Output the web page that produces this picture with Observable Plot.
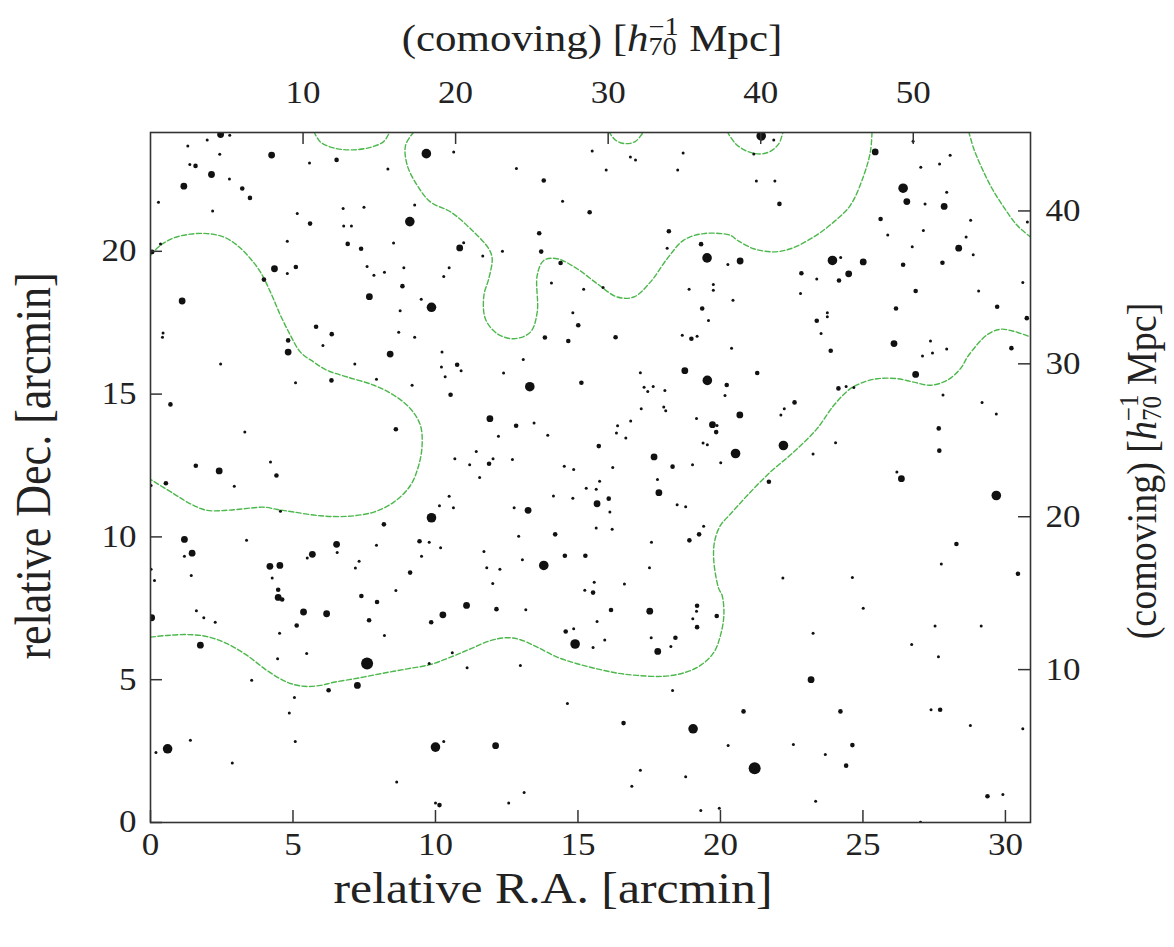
<!DOCTYPE html>
<html>
<head>
<meta charset="utf-8">
<script src="https://cdn.jsdelivr.net/npm/d3@7"></script>
<script src="https://cdn.jsdelivr.net/npm/@observablehq/plot@0.6"></script>
<style>
  html, body { margin: 0; padding: 0; background: white; }
</style>
</head>
<body>
<script>
// ---------- data (arcmin) ----------
const raTicks = [0, 5, 10, 15, 20, 25, 30];
const decTicks = [0, 5, 10, 15, 20];
const mpcTopTicks = [10, 20, 30, 40, 50];
const mpcRightTicks = [10, 20, 30, 40];
const mpcPerArcmin = 1.868;
const raMax = 30.88, decMax = 24.16;

// galaxies: [relative R.A., relative Dec., brightness class 1..5]
const galaxies = [
[2.46,24.09,3],[2.78,24.06,1],[1.99,23.90,1],[1.31,23.69,1],[4.25,23.37,3],[2.43,23.40,1],[5.58,23.09,1],[6.53,23.20,2],[9.68,23.42,4],[1.38,23.04,1],[1.58,22.99,2],[2.14,22.69,3],[8.33,22.88,1],[2.77,22.53,1],[1.17,22.28,3],[3.22,22.20,2],[3.49,21.87,2],[0.28,21.72,1],[9.27,21.62,1],[2.18,21.41,1],[6.76,21.50,1],[7.49,21.54,1],[5.15,21.32,1],[9.10,21.04,4],[5.60,20.97,2],[6.78,20.89,1],[7.05,20.89,1],[0.35,20.26,1],[0.06,19.98,2],[4.80,20.35,1],[6.92,20.26,2],[7.39,20.09,2],[8.53,20.29,1],[4.35,19.39,3],[4.80,19.22,1],[5.10,19.45,2],[7.60,19.47,1],[7.84,19.16,1],[8.21,19.27,1],[8.89,19.42,1],[3.98,19.01,2],[8.84,18.78,2],[1.11,18.26,3],[7.68,18.41,3],[9.50,18.32,1],[9.86,18.04,4],[8.76,17.92,1],[5.81,17.36,2],[6.36,17.10,2],[0.44,17.14,1],[0.42,16.99,1],[8.71,17.17,1],[9.27,16.99,1],[4.83,16.88,2],[6.05,16.70,1],[4.83,16.47,3],[8.41,16.40,3],[2.46,16.05,1],[7.17,16.05,1],
[5.09,15.40,1],[6.35,15.48,2],[7.93,15.52,1],[9.18,15.31,1],[0.70,14.64,2],[3.31,13.67,1],[8.61,13.77,2],[1.59,12.49,2],[2.41,12.31,3],[4.21,12.62,1],[4.42,12.15,2],[2.94,11.77,1],[0.54,11.88,2],[0.02,11.80,1],[4.56,10.90,1],[9.86,10.67,4],[8.19,10.44,2],[1.19,9.91,3],[3.37,9.88,1],[6.53,9.74,3],[7.93,9.71,1],[9.44,9.85,2],[9.78,9.81,1],[1.46,9.43,3],[1.19,9.32,1],[5.68,9.39,3],[5.50,9.26,1],[6.55,9.45,1],[7.32,9.15,1],[7.19,8.91,1],[9.51,9.32,1],[4.19,8.97,3],[4.54,9.00,3],[4.27,8.56,1],[1.43,8.65,1],[0.14,8.47,1],[0.02,8.87,1],[9.11,8.75,2],[4.48,8.15,2],[8.61,8.12,1],
[7.40,7.93,2],[4.48,7.88,3],[4.62,7.81,2],[7.95,7.72,2],[0.04,7.17,3],[1.61,7.41,1],[1.87,7.17,1],[2.27,7.01,1],[5.37,7.37,3],[6.18,7.31,3],[7.67,7.08,2],[9.85,7.01,2],[5.13,6.90,2],[4.53,6.63,1],[8.21,6.55,1],[1.75,6.21,3],[4.46,5.73,1],[5.48,5.92,1],[7.60,5.57,5],[9.78,5.57,1],[3.55,4.98,1],[7.26,4.80,3],[6.25,4.63,2],[5.05,4.38,1],[4.87,3.83,1],[1.40,2.88,1],[0.19,2.45,1],[0.60,2.58,4],[5.08,2.84,1],[2.87,2.08,1],[10.0,2.64,4],[8.64,1.42,1],[10.0,0.68,1],[10.14,0.61,2],
[10.64,23.48,1],[12.84,22.90,1],[15.50,23.51,1],[15.99,22.85,1],[16.84,23.30,1],[17.02,23.20,1],[18.69,23.44,1],[18.50,22.85,1],[13.80,22.48,2],[14.46,21.75,1],[15.41,21.37,2],[13.64,20.63,2],[18.19,20.70,2],[18.13,20.11,1],[10.85,20.12,3],[10.99,20.30,1],[11.66,19.84,1],[12.35,20.00,1],[13.71,19.99,2],[14.39,19.59,2],[10.48,19.42,1],[10.29,19.12,1],[19.32,20.25,2],[19.53,19.77,4],[20.26,19.54,1],[14.07,18.89,1],[15.20,18.67,1],[15.88,18.73,1],[18.90,18.67,1],[19.75,18.84,1],[19.75,18.64,1],[19.36,18.00,2],[19.58,17.58,1],[14.82,17.85,1],[15.01,17.41,2],[13.84,16.98,2],[14.66,16.86,2],[16.32,16.99,2],[18.66,17.06,1],[18.98,16.94,2],[19.18,17.03,1],[10.23,16.47,1],[13.08,16.21,1],
[10.21,15.95,1],[10.76,16.03,2],[10.90,15.82,1],[10.34,15.61,1],[12.39,15.74,1],[13.31,15.26,4],[10.53,14.98,2],[15.12,15.40,2],[17.19,15.75,1],[18.75,15.82,3],[19.54,15.48,4],[20.22,15.32,2],[20.16,14.95,1],[17.32,15.24,1],[17.64,15.27,1],[17.45,15.09,1],[18.05,15.13,1],[17.22,14.49,1],[18.01,14.55,1],[18.08,14.42,1],[11.91,14.14,3],[12.83,13.89,2],[13.46,13.99,1],[12.21,13.52,1],[13.94,13.56,1],[16.39,13.89,1],[16.85,14.06,1],[16.35,13.64,1],[16.68,13.46,1],[19.16,14.15,1],[19.72,13.93,3],[19.88,13.90,1],[19.85,13.67,2],[19.39,13.29,1],[19.54,13.23,1],[15.73,13.18,2],[11.43,12.99,1],[10.68,12.74,1],[11.20,12.53,1],[11.88,12.56,2],[12.02,12.74,1],[12.70,12.71,1],[11.55,12.08,1],[14.52,12.47,1],[14.85,12.36,1],[16.22,12.43,1],[17.67,12.80,3],[18.32,12.46,2],[19.02,12.53,1],[20.01,12.60,1],[17.79,12.01,1],[17.84,11.55,3],[15.76,11.95,1],[15.29,11.70,1],[15.64,11.67,1],[14.14,11.43,1],[14.82,11.35,1],[15.67,11.16,3],[16.08,11.34,2],[16.12,10.87,1],[18.48,11.13,1],[18.78,11.06,1],[10.48,11.42,1],[10.14,11.09,1],[10.63,11.02,1],[12.76,11.02,1],[13.25,10.93,3],[15.64,10.31,1],[16.20,10.27,1],[12.92,10.02,1],[14.20,10.09,2],[10.18,9.62,1],[11.70,9.49,1],[13.05,9.20,1],[13.80,9.00,4],[14.54,9.34,2],[15.26,9.34,2],[11.80,8.92,1],[12.26,8.87,1],[12.01,8.37,1],[15.24,8.13,1],[15.57,8.41,1],[15.53,8.05,2],[16.63,8.35,1],[17.51,8.92,1],[17.58,9.81,1],[18.91,9.88,2],[19.25,10.09,2],[19.41,10.37,1],
[10.26,7.27,3],[11.09,7.60,3],[12.14,7.47,2],[13.17,7.45,1],[10.59,5.94,1],[11.11,5.42,1],[12.98,5.50,1],[16.16,7.44,2],[17.52,7.40,3],[15.67,7.04,1],[14.57,6.69,2],[14.85,6.78,1],[14.90,6.25,4],[15.53,6.13,1],[15.94,6.39,1],[17.57,6.47,1],[17.80,5.99,3],[18.42,6.47,2],[18.26,6.16,1],[19.18,7.59,2],[19.16,7.40,1],[19.03,7.13,1],[19.18,6.84,2],[19.87,7.23,2],[18.32,4.62,1],[14.63,4.17,1],[16.60,3.48,2],[19.04,3.28,4],[10.29,2.84,1],[12.11,2.69,3],[17.19,1.83,1],[16.89,1.27,1],[18.78,1.60,1],[20.27,2.70,1],[13.11,1.05,1],[12.57,0.68,1],[19.31,0.42,1],[19.96,0.50,1],
[21.43,24.04,4],[21.87,23.90,1],[21.17,23.41,1],[21.26,22.46,1],[21.91,22.46,1],[22.07,21.66,2],[25.43,23.48,3],[26.76,23.85,1],[27.03,22.94,1],[27.69,23.06,1],[28.06,23.36,1],[26.41,22.21,4],[26.54,21.74,3],[27.18,21.66,1],[27.85,21.57,3],[27.94,22.07,1],[25.62,21.13,2],[25.87,20.57,1],[27.12,20.73,1],[26.73,20.16,1],[28.78,21.09,1],[28.62,20.50,1],[28.36,20.11,3],[28.87,19.88,1],[30.77,21.03,1],[20.69,19.66,3],[23.93,19.68,4],[24.22,19.78,1],[25.01,19.63,3],[24.50,19.21,3],[22.84,19.23,2],[23.38,19.03,1],[24.16,18.98,2],[26.41,19.53,2],[27.79,19.60,2],[22.81,18.52,1],[20.44,18.29,1],[26.85,18.61,2],[29.06,18.61,1],[30.61,18.91,1],[26.16,18.00,2],[29.71,18.06,2],[30.75,17.66,2],[23.75,17.85,1],[23.75,17.71,1],[23.38,17.57,2],[23.53,17.12,1],[20.39,16.61,1],[23.87,16.52,2],[26.09,16.77,3],[27.37,16.86,1],[27.09,16.33,1],[27.44,16.44,1],[27.94,16.58,1],[30.21,16.61,2],
[21.29,15.74,2],[20.68,14.27,3],[20.53,12.92,4],[22.24,14.49,1],[22.12,14.27,1],[22.60,14.71,2],[22.21,13.20,4],[23.25,12.90,1],[24.04,13.30,1],[21.70,11.93,2],[24.14,15.20,2],[24.41,15.27,1],[24.68,15.23,1],[26.85,15.69,3],[27.81,14.97,1],[29.18,14.71,1],[29.68,14.30,1],[27.66,13.80,2],[27.68,13.02,2],[26.19,12.27,1],[26.35,12.04,3],[29.68,11.45,4],[28.28,9.75,2],[27.75,9.05,1],[22.19,8.56,1],[24.63,8.58,1],[30.44,8.71,2],
[25.01,7.50,1],[23.25,6.63,1],[27.53,6.88,1],[29.15,6.88,1],[26.71,6.23,1],[27.65,5.80,1],[23.18,5.00,3],[20.81,3.89,2],[24.21,3.89,2],[27.39,3.95,1],[27.71,3.95,2],[28.77,3.40,1],[30.61,3.28,1],[22.56,2.73,1],[24.63,2.71,2],[23.68,2.38,1],[24.41,1.99,2],[21.20,1.90,5],[23.34,0.74,1],[29.37,0.92,2],[29.91,0.98,1],[27.02,0.01,1]
];

// density contours: [R.A., Dec.]
const contourLeft = [[0,19.86],[0.35,20.21],[0.82,20.47],[1.40,20.60],[1.99,20.62],[2.57,20.50],[3.04,20.21],[3.51,19.74],[3.86,19.27],[4.21,18.57],[4.56,17.76],[4.91,17.06],[5.26,16.47],[5.73,16.12],[6.20,15.83],[6.90,15.60],[7.84,15.31],[8.54,14.96],[9.12,14.49],[9.47,13.91],[9.53,13.20],[9.41,12.50],[9.12,11.80],[8.54,11.22],[7.84,10.87],[6.90,10.72],[5.96,10.74],[5.03,10.87],[4.45,10.96],[4.00,11.04],[3.51,11.01],[2.92,10.95],[1.99,10.93],[1.40,11.16],[0.82,11.51],[0,12.01]];
const contourLower = [[0,6.49],[0.58,6.55],[1.29,6.58],[1.99,6.51],[2.69,6.26],[3.39,5.85],[4.09,5.32],[4.80,4.91],[5.38,4.77],[5.96,4.80],[6.43,4.91],[7.25,5.05],[8.07,5.21],[9.01,5.38],[9.82,5.53],[10.53,5.79],[11.23,6.08],[11.93,6.37],[12.52,6.47],[12.98,6.40],[13.57,6.14],[14.27,5.79],[14.97,5.56],[15.67,5.38],[16.38,5.23],[17.08,5.15],[18.01,5.12],[18.71,5.24],[19.30,5.50],[19.77,5.96],[20.00,6.55],[20.12,7.25],[20.06,7.95],[19.94,8.19],[19.77,9.12],[19.79,9.82],[20.00,10.40],[20.35,10.80],[20.94,11.45],[21.75,12.27],[22.57,12.97],[23.39,13.79],[23.98,14.61],[24.56,15.19],[25.03,15.42],[25.50,15.54],[26.20,15.54],[26.78,15.42],[27.37,15.31],[27.95,15.48],[28.42,15.89],[28.71,16.36],[29.36,17.08],[29.82,17.27],[30.29,17.20],[30.88,17.00]];
const contourMiddle = [[9.24,24.18],[8.95,23.71],[9.01,23.01],[9.36,22.31],[9.82,21.73],[10.53,21.38],[11.23,20.79],[11.87,20.09],[11.99,19.74],[11.87,19.04],[11.70,18.46],[11.75,17.64],[12.16,17.12],[12.75,16.94],[13.33,17.17],[13.57,17.87],[13.57,19.16],[13.80,19.68],[14.27,19.74],[14.97,19.39],[15.67,18.87],[16.38,18.40],[16.96,18.40],[17.54,18.92],[18.13,19.74],[18.71,20.39],[19.41,20.62],[20.35,20.56],[20.59,20.39],[21.17,20.09],[21.87,19.98],[22.46,20.09],[23.27,20.50],[23.98,21.03],[24.56,21.61],[25.03,22.66],[25.26,23.48],[25.32,24.20]];
const contourTopA = [[5.73,24.20],[5.96,23.83],[6.43,23.62],[7.02,23.55],[7.72,23.64],[8.19,23.85],[8.40,24.20]];
const contourTopB = [[16.08,24.20],[16.32,23.89],[16.67,23.77],[17.02,23.85],[17.31,24.20]];
const contourTopC = [[20.23,24.20],[20.53,23.77],[20.94,23.50],[21.40,23.41],[21.75,23.50],[22.05,23.77],[22.20,24.20]];
const contourRight = [[28.71,24.20],[28.89,23.59],[29.18,22.90],[29.53,22.20],[29.94,21.55],[30.41,20.91],[30.88,20.50]];
const contours = [contourLeft, contourLower, contourMiddle, contourTopA, contourTopB, contourTopC, contourRight];

// ---------- chart ----------
const GREEN = "#4cb84c";
const INK = "#222";
const tickLen = 0.42;

const contourMarks = contours.map(c => Plot.line(c, {
  x: d => d[0], y: d => d[1], curve: "catmull-rom",
  stroke: GREEN, strokeWidth: 1.4, strokeDasharray: "5,2.5", clip: true
}));

const chart = Plot.plot({
  width: 1174, height: 947,
  marginLeft: 150, marginRight: 144, marginTop: 132, marginBottom: 125,
  style: {fontFamily: "'Liberation Serif', 'Times New Roman', serif", fontSize: "31px", color: INK, background: "white"},
  x: {domain: [0, raMax]},
  y: {domain: [0, decMax]},
  r: {type: "linear", domain: [1, 2, 3, 4, 5], range: [1.5, 2.3, 3.4, 4.8, 6.0]},
  marks: [
    ...contourMarks,
    Plot.dot(galaxies, {x: d => d[0], y: d => d[1], r: d => d[2], fill: "#111", clip: true}),
    Plot.ruleX(raTicks, {x: d => d, y1: 0, y2: tickLen, stroke: "#333", strokeWidth: 1.5}),
    Plot.ruleY(decTicks, {y: d => d, x1: 0, x2: tickLen, stroke: "#333", strokeWidth: 1.5}),
    Plot.ruleX(mpcTopTicks, {x: d => d / mpcPerArcmin, y1: decMax - tickLen, y2: decMax, stroke: "#333", strokeWidth: 1.5}),
    Plot.ruleY(mpcRightTicks, {y: d => d / mpcPerArcmin, x1: raMax - tickLen, x2: raMax, stroke: "#333", strokeWidth: 1.5}),
    Plot.frame({stroke: "#333", strokeWidth: 1.6}),
    Plot.axisX({anchor: "bottom", ticks: raTicks, tickFormat: d => String(d), tickSize: 0, tickPadding: 10, label: null}),
    Plot.axisY({anchor: "left", ticks: decTicks, tickFormat: d => String(d), tickSize: 0, tickPadding: 14, label: null}),
    Plot.axisX({anchor: "top", ticks: mpcTopTicks.map(m => m / mpcPerArcmin), tickFormat: d => String(Math.round(d * mpcPerArcmin)), tickSize: 0, tickPadding: 30, label: null}),
    Plot.axisY({anchor: "right", ticks: mpcRightTicks.map(m => m / mpcPerArcmin), tickFormat: d => String(Math.round(d * mpcPerArcmin)), tickSize: 0, tickPadding: 15, label: null})
  ]
});
document.body.append(chart);

// horizontal stretch of tick labels to match the reference's wide type
const STRETCH = 1.13;
d3.select(chart).selectAll("g[aria-label$='tick label'] text").each(function() {
  const t = this.getAttribute("transform");
  if (t) {
    this.setAttribute("transform", t + ` scale(${STRETCH},1)`);
  } else {
    const x = +this.getAttribute("x") || 0;
    this.removeAttribute("x");
    this.setAttribute("transform", `translate(${x},0) scale(${STRETCH},1)`);
  }
});

// axis titles
const svg = d3.select(chart);
function plainLabel(str, transform, fs) {
  svg.append("text")
    .attr("transform", transform)
    .attr("text-anchor", "middle")
    .attr("dominant-baseline", "central")
    .attr("font-size", fs)
    .attr("fill", INK)
    .text(str);
}
function mpcLabel(transform, fs) {
  const t = svg.append("text")
    .attr("transform", transform)
    .attr("text-anchor", "middle")
    .attr("dominant-baseline", "central")
    .attr("font-size", fs)
    .attr("fill", INK);
  t.append("tspan").text("(comoving) [");
  t.append("tspan").attr("font-style", "italic").text("h");
  t.append("tspan").attr("font-size", 25).attr("dy", 9).text("70");
  t.append("tspan").attr("font-size", 25).attr("dx", -25).attr("dy", -20).text("\u22121");
  t.append("tspan").attr("dy", 11).text(" Mpc]");
}
plainLabel("relative R.A. [arcmin]", `translate(553,888) scale(${STRETCH},1)`, 44);
plainLabel("relative Dec. [arcmin]", `translate(33,466) rotate(-90) scale(1,${STRETCH})`, 44);
mpcLabel(`translate(592,38) scale(${STRETCH},1)`, 38);
mpcLabel(`translate(1141,471) rotate(-90) scale(1,${STRETCH})`, 38);
</script>
</body>
</html>
